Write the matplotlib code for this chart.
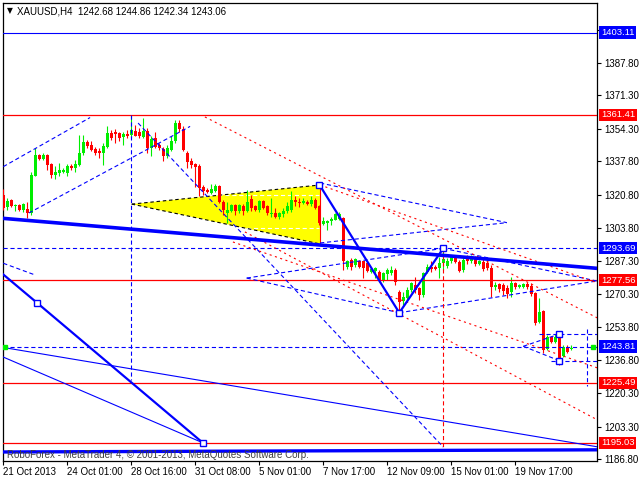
import matplotlib
matplotlib.use('Agg')
import matplotlib.pyplot as plt
import matplotlib.transforms as mtransforms
from matplotlib.patches import Polygon

plt.rcParams['font.family'] = ['Liberation Sans', 'DejaVu Sans']
plt.rcParams['lines.scale_dashes'] = False

# ---------------- data (H4 candles, XAUUSD) ----------------
opens = [1320.8, 1314.4, 1318.3, 1314.9, 1315.4, 1313.2, 1313.7, 1311.5, 1330.6, 1340.8,
         1339.1, 1341.1, 1336.4, 1331.0, 1332.0, 1332.3, 1332.1, 1335.5, 1334.3, 1336.0,
         1342.0, 1347.4, 1346.2, 1344.0, 1342.8, 1342.0, 1345.3, 1352.4, 1352.9, 1352.4,
         1350.1, 1351.6, 1350.9, 1353.3, 1352.9, 1350.1, 1353.3, 1344.5, 1349.6, 1346.2,
         1344.2, 1340.3, 1343.6, 1347.9, 1357.2, 1354.3, 1342.0, 1338.1, 1336.3, 1335.4,
         1325.0, 1323.3, 1321.7, 1322.8, 1325.4, 1317.1, 1311.5, 1312.7, 1315.4, 1312.7,
         1314.9, 1312.7, 1318.8, 1314.9, 1313.2, 1317.8, 1314.9, 1311.0, 1311.5, 1309.8,
         1311.0, 1312.7, 1313.2, 1318.3, 1317.4, 1316.6, 1317.4, 1316.1, 1318.3, 1314.9,
         1305.9, 1306.4, 1307.3, 1308.1, 1308.6, 1309.0, 1284.4, 1287.8, 1285.3, 1287.3,
         1287.0, 1286.1, 1281.9, 1282.2, 1281.9, 1277.7, 1280.6, 1281.1, 1282.7, 1271.7,
         1267.0, 1268.7, 1272.6, 1275.1, 1273.4, 1270.0, 1281.6, 1284.4, 1284.4, 1283.6,
         1286.1, 1284.9, 1287.0, 1289.0, 1286.6, 1282.7, 1289.5, 1287.3, 1289.5, 1285.6,
         1286.6, 1286.3, 1283.8, 1274.0, 1275.6, 1275.1, 1273.4, 1271.7, 1276.0, 1274.0,
         1274.3, 1275.6, 1274.6, 1271.2, 1256.5, 1262.1, 1242.5, 1248.6, 1246.3, 1248.0,
         1239.1, 1243.0, 1242.68]
highs = [1323.8, 1319.1, 1318.6, 1316.1, 1316.1, 1316.6, 1317.4, 1332.6, 1344.5, 1341.5,
         1342.0, 1341.5, 1336.9, 1335.2, 1336.9, 1334.3, 1336.4, 1336.4, 1338.6, 1350.9,
         1351.3, 1348.7, 1347.9, 1345.3, 1344.5, 1347.0, 1355.5, 1353.8, 1354.3, 1352.9,
         1352.9, 1353.8, 1361.4, 1356.3, 1354.6, 1359.7, 1354.6, 1350.4, 1352.9, 1347.0,
         1345.3, 1346.2, 1350.4, 1358.9, 1358.9, 1355.5, 1342.8, 1339.4, 1336.8, 1336.3,
         1325.9, 1324.2, 1326.3, 1326.3, 1325.9, 1318.3, 1317.4, 1316.1, 1316.1, 1316.1,
         1316.1, 1323.3, 1320.8, 1315.7, 1318.3, 1318.3, 1315.4, 1319.1, 1314.0, 1312.3,
         1314.0, 1317.4, 1322.5, 1320.0, 1319.1, 1319.1, 1318.3, 1320.0, 1319.1, 1315.7,
         1309.8, 1308.1, 1309.8, 1311.5, 1312.0, 1309.8, 1287.8, 1288.7, 1288.7, 1287.8,
         1287.3, 1287.0, 1284.4, 1284.4, 1282.7, 1281.9, 1283.6, 1284.9, 1283.6, 1272.6,
         1271.7, 1274.3, 1276.8, 1279.3, 1274.3, 1281.9, 1285.6, 1287.0, 1285.3, 1289.5,
         1293.0, 1288.7, 1290.4, 1290.0, 1287.8, 1290.0, 1290.4, 1290.4, 1290.0, 1287.8,
         1288.7, 1287.8, 1285.3, 1276.7, 1276.1, 1276.1, 1275.1, 1279.0, 1276.8, 1275.6,
         1276.3, 1276.8, 1276.0, 1271.7, 1268.4, 1262.4, 1249.7, 1249.2, 1250.1, 1250.6,
         1244.6, 1244.6, 1244.86]
lows = [1313.2, 1313.2, 1314.4, 1312.7, 1312.7, 1312.3, 1309.3, 1310.7, 1330.1, 1338.6,
        1338.6, 1333.5, 1329.3, 1329.0, 1330.1, 1331.8, 1330.1, 1333.5, 1332.6, 1335.2,
        1341.1, 1344.5, 1342.8, 1341.1, 1339.4, 1335.7, 1344.5, 1348.7, 1347.0, 1347.9,
        1346.2, 1349.6, 1349.6, 1350.4, 1349.6, 1349.6, 1342.0, 1340.3, 1344.5, 1343.6,
        1338.1, 1339.4, 1342.8, 1347.0, 1352.9, 1342.8, 1334.3, 1334.3, 1324.9, 1320.4,
        1320.8, 1321.7, 1321.2, 1322.2, 1316.6, 1310.7, 1306.4, 1312.0, 1310.7, 1311.5,
        1310.7, 1312.0, 1312.7, 1312.7, 1312.3, 1313.5, 1310.7, 1309.8, 1309.0, 1308.6,
        1309.8, 1311.5, 1312.3, 1314.9, 1314.6, 1316.1, 1315.4, 1314.9, 1313.7, 1305.6,
        1305.6, 1303.0, 1305.6, 1307.8, 1308.1, 1282.7, 1283.2, 1282.7, 1284.4, 1283.6,
        1278.5, 1281.5, 1281.0, 1278.5, 1276.8, 1276.8, 1277.7, 1280.2, 1275.1, 1261.0,
        1265.0, 1267.5, 1271.7, 1270.9, 1267.5, 1269.2, 1281.0, 1281.9, 1282.7, 1278.5,
        1282.7, 1283.6, 1286.1, 1286.1, 1281.5, 1281.9, 1285.6, 1286.1, 1284.9, 1285.3,
        1282.2, 1282.7, 1269.0, 1272.6, 1271.6, 1270.0, 1268.5, 1269.2, 1273.0, 1273.4,
        1273.4, 1273.0, 1269.5, 1254.8, 1255.7, 1240.4, 1242.1, 1245.8, 1245.8, 1234.5,
        1238.4, 1240.8, 1242.34]
closes = [1314.0, 1317.8, 1314.9, 1315.7, 1313.2, 1316.1, 1311.5, 1331.0, 1340.8, 1339.1,
          1341.1, 1336.0, 1331.0, 1332.6, 1333.4, 1333.3, 1335.2, 1334.3, 1336.5, 1342.0,
          1347.4, 1345.7, 1343.3, 1342.0, 1342.0, 1345.8, 1352.4, 1349.6, 1351.6, 1349.6,
          1351.6, 1350.4, 1353.8, 1350.7, 1350.4, 1353.3, 1344.5, 1349.1, 1345.3, 1344.5,
          1340.3, 1344.5, 1347.9, 1357.2, 1354.3, 1343.6, 1337.7, 1336.0, 1335.1, 1324.4,
          1322.8, 1322.2, 1323.8, 1325.4, 1317.1, 1313.2, 1313.2, 1315.7, 1312.7, 1315.4,
          1312.7, 1317.4, 1314.0, 1313.2, 1317.8, 1314.0, 1311.5, 1311.5, 1309.8, 1311.5,
          1312.7, 1314.9, 1318.3, 1317.1, 1316.6, 1317.8, 1316.1, 1318.3, 1314.0, 1306.4,
          1307.3, 1307.3, 1308.6, 1311.0, 1311.0, 1287.3, 1287.0, 1284.4, 1288.3, 1284.4,
          1283.6, 1282.2, 1283.2, 1283.6, 1277.7, 1281.0, 1282.7, 1282.7, 1276.8, 1266.6,
          1269.2, 1272.6, 1276.0, 1272.6, 1270.0, 1281.0, 1284.4, 1283.2, 1283.2, 1286.1,
          1288.3, 1287.3, 1289.5, 1286.6, 1282.2, 1287.8, 1287.0, 1289.5, 1285.6, 1287.0,
          1283.2, 1283.8, 1274.1, 1275.1, 1272.9, 1272.2, 1270.5, 1276.3, 1274.0, 1275.1,
          1275.6, 1274.3, 1270.5, 1256.0, 1261.6, 1242.1, 1248.9, 1246.3, 1248.9, 1236.2,
          1243.5, 1241.3, 1243.06]

date_ticks = [0, 16, 32, 48, 64, 80, 96, 112, 128]
date_labels = ["21 Oct 2013", "24 Oct 01:00", "28 Oct 16:00", "31 Oct 08:00", "5 Nov 01:00",
               "7 Nov 17:00", "12 Nov 09:00", "15 Nov 01:00", "19 Nov 17:00"]
price_ticks = [1404.30, 1387.80, 1371.30, 1354.30, 1337.80, 1320.80, 1303.80, 1287.30,
               1270.30, 1253.80, 1236.80, 1220.30, 1203.30, 1186.80]
hidden_ticks = [1404.30]  # covered by the 1403.11 level box

levels_blue_solid = [1403.11]
levels_red_solid = [1361.41, 1277.56, 1225.49, 1195.03]
levels_blue_dashed = [1293.69, 1243.81]

# analysis objects: (bar index, price)
trend_thick = [(-0.2, 1308.9), (148.6, 1283.5)]
base_thick = [(-0.2, 1190.4), (148.6, 1191.5)]
zigzag = [(79, 1326.0), (99, 1261.0), (110, 1293.69)]
wave_line = [(-1, 1282.1), (8.4, 1266.1), (49.9, 1195.03)]
thin_blue_1 = [(0, 1243.4), (148.6, 1193.0)]
thin_blue_2 = [(-0.2, 1238.7), (49.9, 1195.03)]
blue_dashed_lines = [
    [(0, 1335.1), (21.7, 1360.0)],
    [(6.4, 1311.6), (46.7, 1355.5)],
    [(0, 1286.1), (7.9, 1280.2)],
    [(33.7, 1357.2), (110, 1192.9)],
    [(79.2, 1326.8), (125.9, 1306.7)],
    [(79.2, 1296.4), (125.9, 1306.7)],
    [(60.85, 1278.6), (110, 1293.69)],
    [(60.85, 1278.6), (99, 1261.0)],
    [(110, 1293.69), (148.6, 1277.0)],
    [(99, 1261.0), (148.6, 1277.2)],
    [(32, 1361.41), (32, 1226.9)],
    [(130, 1244.0), (139, 1250.2)],
    [(130, 1244.0), (139, 1236.7)],
    [(134, 1250.2), (148.6, 1250.2)],
    [(137, 1236.7), (148.6, 1236.7)],
    [(146, 1253.0), (146, 1224.0)],
]
red_dotted_lines = [
    [(50.4, 1360.3), (148.6, 1258.3)],
    [(79.2, 1325.8), (148.6, 1276.1)],
    [(60.4, 1302.0), (148.6, 1206.6)],
    [(57.4, 1296.9), (148.6, 1233.0)],
]
red_dashed_vertical = [(110, 1293.69), (110, 1192.9)]
triangle = [(32.1, 1316.1), (79.2, 1325.8), (79.2, 1295.9)]
white_dashed = [[(52, 1320.7), (79, 1320.7)], [(47, 1303.8), (79, 1303.8)]]
squares = [(8.4, 1266.1), (49.9, 1195.03), (79, 1326.0), (99, 1261.0), (110, 1293.69),
           (139, 1250.2), (139, 1236.7)]

BLUE = '#0000FF'
RED = '#FF0000'
GREEN = '#00EE00'

fig = plt.figure(figsize=(6.4, 4.8), dpi=100)
ax = fig.add_axes([3 / 640, 1 - 461 / 480, 594 / 640, 458 / 480])
ax.set_xlim(-0.075, 148.425)
ax.set_ylim(1185.83, 1418.08)

# yellow triangle
ax.add_patch(Polygon(triangle, closed=True, fc='#FFFF00', ec='none', zorder=1))
for seg in white_dashed:
    xs, ys = zip(*seg)
    ax.plot(xs, ys, color='white', lw=0.8, dashes=(3, 2), zorder=1.5)
for a, b in [(0, 1), (0, 2)]:
    ax.plot([triangle[a][0], triangle[b][0]], [triangle[a][1], triangle[b][1]],
            color='black', lw=0.8, dashes=(2.5, 2), zorder=1.6)
ax.plot([triangle[1][0], triangle[2][0]], [triangle[1][1], triangle[2][1]],
        color=RED, lw=0.8, zorder=1.6)

# candles
for i, (o, h, l, c) in enumerate(zip(opens, highs, lows, closes)):
    col = GREEN if c >= o else RED
    ax.vlines(i, l, h, color=col, lw=0.8, zorder=3)
    ax.bar(i, max(abs(c - o), 0.5), bottom=min(o, c), width=0.78, color=col,
           lw=0, zorder=3)

# horizontal levels
for v in levels_blue_solid:
    ax.axhline(v, color=BLUE, lw=0.8, zorder=4)
for v in levels_red_solid:
    ax.axhline(v, color=RED, lw=0.9, zorder=4)
for v in levels_blue_dashed:
    ax.axhline(v, color=BLUE, lw=0.8, dashes=(3, 2), zorder=4)

def draw(seg, **kw):
    xs, ys = zip(*seg)
    ax.plot(xs, ys, **kw)

for seg in blue_dashed_lines:
    draw(seg, color=BLUE, lw=0.8, dashes=(3, 2), zorder=4)
for seg in red_dotted_lines:
    draw(seg, color=RED, lw=0.8, dashes=(1.5, 2.5), zorder=4)
draw(red_dashed_vertical, color=RED, lw=0.8, dashes=(3, 2), zorder=4)

draw(thin_blue_1, color=BLUE, lw=0.8, zorder=4)
draw(thin_blue_2, color=BLUE, lw=0.8, zorder=4)
draw(trend_thick, color=BLUE, lw=2.6, zorder=5, solid_capstyle='butt')
draw(base_thick, color=BLUE, lw=2.4, zorder=5, solid_capstyle='butt')
draw(zigzag, color=BLUE, lw=1.6, zorder=5)
draw(wave_line, color=BLUE, lw=1.6, zorder=5)
sx, sy = zip(*squares)
ax.plot(sx, sy, ls='none', marker='s', ms=4.5, mfc='white', mec=BLUE, mew=1.0, zorder=6)
ax.plot([0.3, 147.4], [1243.81, 1243.81], ls='none', marker='s', ms=2.5, mfc=GREEN,
        mec=GREEN, zorder=6)

# axes styling
for s in ax.spines.values():
    s.set_color('black')
    s.set_linewidth(0.9)
ax.yaxis.tick_right()
ax.set_yticks(price_ticks)
ax.set_yticklabels(['' if v in hidden_ticks else f'{v:.2f}' for v in price_ticks])
ax.set_xticks(date_ticks)
ax.set_xticklabels(date_labels)
for lab in ax.get_xticklabels():
    lab.set_horizontalalignment('left')
ax.tick_params(axis='y', direction='out', length=3, width=0.8, pad=2.5, labelsize=7,
               colors='black')
ax.tick_params(axis='x', direction='out', length=3, width=0.8, pad=1.5, labelsize=7,
               colors='black')

# level price boxes on the scale
trans = mtransforms.blended_transform_factory(ax.transAxes, ax.transData)
boxes = [(v, BLUE) for v in levels_blue_solid + levels_blue_dashed] + \
        [(v, RED) for v in levels_red_solid]
for v, col in boxes:
    ax.text(1.0 + 4 / 594, v, f'{v:.2f}', transform=trans, ha='left', va='center',
            color='white', fontsize=6.8, clip_on=False, zorder=10,
            bbox=dict(boxstyle='square,pad=0.18', fc=col, ec='none'))

# header and watermark
fig.text(7 / 640, 1 - 11 / 480, '\u25BC', fontsize=5.5, va='center', ha='left',
         family='DejaVu Sans', color='black')
fig.text(17 / 640, 1 - 11 / 480, 'XAUUSD,H4  1242.68 1244.86 1242.34 1243.06',
         fontsize=7, va='center', ha='left', color='black')
ax.text(4 / 594, 6 / 458, 'RoboForex - MetaTrader 4, \u00A9 2001-2013, MetaQuotes Software Corp.',
        transform=ax.transAxes, fontsize=7, va='center', ha='left', color='#404040',
        zorder=7)

fig.savefig('out.png', dpi=100)
